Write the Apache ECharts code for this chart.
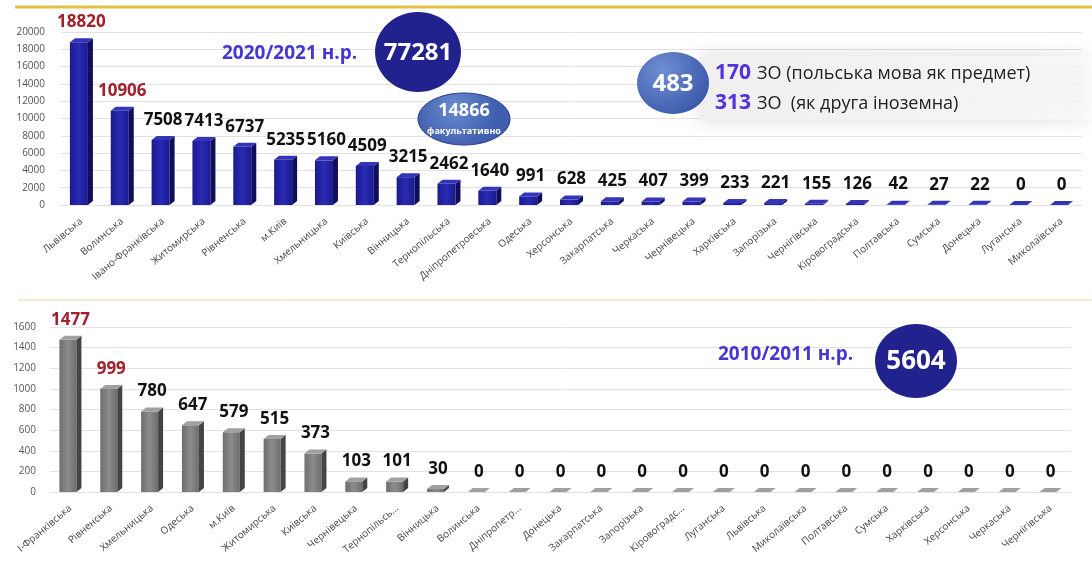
<!DOCTYPE html>
<html>
<head>
<meta charset="utf-8">
<script src="https://cdn.jsdelivr.net/npm/echarts@6/dist/echarts.min.js"></script>
<style>
  html, body { margin: 0; padding: 0; background: #fff; }
  #main { width: 1092px; height: 563px; }
</style>
</head>
<body>
<div id="main"></div>
<script>
// 2020/2021 н.р. — кількість учнів по областях
var regions2020 = ['Львівська', 'Волинська', 'Івано-Франківська', 'Житомирська', 'Рівненська', 'м.Київ',
  'Хмельницька', 'Київська', 'Вінницька', 'Тернопільська', 'Дніпропетровська', 'Одеська', 'Херсонська',
  'Закарпатська', 'Черкаська', 'Чернівецька', 'Харківська', 'Запорізька', 'Чернігівська', 'Кіровоградська',
  'Полтавська', 'Сумська', 'Донецька', 'Луганська', 'Миколаївська'];
var values2020 = [18820, 10906, 7508, 7413, 6737, 5235, 5160, 4509, 3215, 2462, 1640, 991, 628,
  425, 407, 399, 233, 221, 155, 126, 42, 27, 22, 0, 0];

// 2010/2011 н.р.
var regions2010 = ['І-Франківська', 'Рівненська', 'Хмельницька', 'Одеська', 'м.Київ', 'Житомирська',
  'Київська', 'Чернівецька', 'Тернопільсь...', 'Вінницька', 'Волинська', 'Дніпропетр...', 'Донецька',
  'Закарпатська', 'Запорізька', 'Кіровоградс...', 'Луганська', 'Львівська', 'Миколаївська', 'Полтавська',
  'Сумська', 'Харківська', 'Херсонська', 'Черкаська', 'Чернігівська'];
var values2010 = [1477, 999, 780, 647, 579, 515, 373, 103, 101, 30, 0, 0, 0,
  0, 0, 0, 0, 0, 0, 0, 0, 0, 0, 0, 0];

var yTicks2020 = [0, 20000, 2000];   // min, max, interval
var yTicks2010 = [0, 1600, 200];

var FONT = '"Open Sans", "Noto Sans", sans-serif';

// 3D-стовпчик: передня грань, бокова грань, верх + підпис
function bar3d(front, side, topc, w, d) {
  return function (params, api) {
    var p = api.coord([api.value(0), api.value(1)]);
    var b = api.coord([api.value(0), 0]);
    var l = p[0] - w / 2 - d / 2, r = l + w, t = p[1], base = b[1];
    var labelColor = params.dataIndex < 2 ? '#a3202c' : '#111';
    return {
      type: 'group',
      children: [
        { type: 'rect', shape: { x: l, y: t, width: w, height: base - t },
          style: { fill: new echarts.graphic.LinearGradient(0, 0, 1, 0, [
            { offset: 0, color: front[0] }, { offset: 0.5, color: front[1] }, { offset: 1, color: front[0] }]) } },
        { type: 'polygon', shape: { points: [[r, t], [r + d, t - d * 0.8], [r + d, base - d * 0.8], [r, base]] },
          style: { fill: side } },
        { type: 'polygon', shape: { points: [[l, t], [l + d, t - d * 0.8], [r + d, t - d * 0.8], [r, t]] },
          style: { fill: topc } },
        { type: 'text', style: { text: String(api.value(1)), x: p[0], y: t - 20, align: 'center',
          verticalAlign: 'middle', fill: labelColor, font: 'bold 17px ' + FONT } }
      ]
    };
  };
}

function plain(v) { return String(v); }

// усі підписи поверх сітки
function onTop(list) {
  list.forEach(function (g) { g.z = 100; });
  return list;
}

var chart = echarts.init(document.getElementById('main'));
var option = {
  backgroundColor: '#fff',
  animation: false,
  grid: [
    { left: 61, right: 10, top: 32, bottom: 358 },
    { left: 50, right: 21, top: 327, bottom: 71 }
  ],
  xAxis: [
    { type: 'category', gridIndex: 0, data: regions2020,
      axisLine: { show: false }, axisTick: { show: false },
      axisLabel: { interval: 0, rotate: 40, margin: 15, fontSize: 10, color: '#444', fontFamily: FONT } },
    { type: 'category', gridIndex: 1, data: regions2010,
      axisLine: { show: false }, axisTick: { show: false },
      axisLabel: { interval: 0, rotate: 40, margin: 15, fontSize: 10, color: '#444', fontFamily: FONT } }
  ],
  yAxis: [
    { type: 'value', gridIndex: 0, min: yTicks2020[0], max: yTicks2020[1], interval: yTicks2020[2],
      axisLine: { show: false }, axisTick: { show: false },
      axisLabel: { margin: 16, fontSize: 10, color: '#555', fontFamily: FONT, formatter: plain },
      splitLine: { lineStyle: { color: '#e2e2e2' } } },
    { type: 'value', gridIndex: 1, min: yTicks2010[0], max: yTicks2010[1], interval: yTicks2010[2],
      axisLine: { show: false }, axisTick: { show: false },
      axisLabel: { margin: 14, fontSize: 10, color: '#555', fontFamily: FONT, formatter: plain },
      splitLine: { lineStyle: { color: '#e2e2e2' } } }
  ],
  series: [
    { type: 'custom', xAxisIndex: 0, yAxisIndex: 0,
      renderItem: bar3d(['#1a1a8e', '#2a2ab4'], '#0e0e5a', '#3434b8', 18, 5),
      data: values2020.map(function (v, i) { return [i, v]; }) },
    { type: 'custom', xAxisIndex: 1, yAxisIndex: 1,
      renderItem: bar3d(['#6e6e6e', '#8c8c8c'], '#444', '#a0a0a0', 17, 5),
      data: values2010.map(function (v, i) { return [i, v]; }) }
  ],
  graphic: onTop([
    // лінії-роздільники
    { type: 'line', shape: { x1: 15, y1: 7, x2: 1092, y2: 7 }, style: { stroke: '#e3c245', lineWidth: 3 } },
    { type: 'line', shape: { x1: 18, y1: 300, x2: 1092, y2: 300 }, style: { stroke: '#e8dc98', lineWidth: 1 } },

    // 2020/2021
    { type: 'text', style: { text: '2020/2021 н.р.', x: 222, y: 54, verticalAlign: 'middle',
      fill: '#4637d2', font: 'bold 19px ' + FONT } },
    { type: 'ellipse', shape: { cx: 418, cy: 52, rx: 43, ry: 40 }, style: { fill: '#22228e' } },
    { type: 'text', style: { text: '77281', x: 418, y: 53, align: 'center', verticalAlign: 'middle',
      fill: '#fff', font: 'bold 24px ' + FONT } },

    { type: 'ellipse', shape: { cx: 464, cy: 119, rx: 46, ry: 26 },
      style: { fill: new echarts.graphic.RadialGradient(0.4, 0.3, 0.8, [
        { offset: 0, color: '#6a8ad0' }, { offset: 1, color: '#3f5fae' }]), stroke: '#2a3a8a', lineWidth: 1 } },
    { type: 'text', style: { text: '14866', x: 464, y: 111, align: 'center', verticalAlign: 'middle',
      fill: '#fff', font: 'bold 18px ' + FONT } },
    { type: 'text', style: { text: 'факультативно', x: 464, y: 131, align: 'center', verticalAlign: 'middle',
      fill: '#fff', font: 'bold 9px ' + FONT } },

    // 483 ЗО
    { type: 'rect', shape: { x: 700, y: 56, width: 392, height: 64 },
      style: { fill: new echarts.graphic.LinearGradient(0, 0, 1, 0, [
        { offset: 0, color: 'rgba(240,240,240,0.97)' }, { offset: 0.85, color: 'rgba(246,246,246,0.95)' },
        { offset: 1, color: 'rgba(255,255,255,0.6)' }]),
        shadowBlur: 18, shadowColor: 'rgba(0,0,0,0.15)' } },
    { type: 'ellipse', shape: { cx: 673, cy: 83, rx: 36, ry: 31 },
      style: { fill: new echarts.graphic.RadialGradient(0.35, 0.3, 0.8, [
        { offset: 0, color: '#6f8fd2' }, { offset: 1, color: '#3c5aaa' }]) } },
    { type: 'text', style: { text: '483', x: 673, y: 84, align: 'center', verticalAlign: 'middle',
      fill: '#fff', font: 'bold 24px ' + FONT } },
    { type: 'text', style: { text: '170', x: 715, y: 73, verticalAlign: 'middle',
      fill: '#5233dc', font: 'bold 21px ' + FONT } },
    { type: 'text', style: { text: 'ЗО (польська мова як предмет)', x: 757, y: 74, verticalAlign: 'middle',
      fill: '#222', font: '18px ' + FONT } },
    { type: 'text', style: { text: '313', x: 715, y: 103, verticalAlign: 'middle',
      fill: '#5233dc', font: 'bold 21px ' + FONT } },
    { type: 'text', style: { text: 'ЗО  (як друга іноземна)', x: 757, y: 104, verticalAlign: 'middle',
      fill: '#222', font: '18px ' + FONT } },

    // 2010/2011
    { type: 'text', style: { text: '2010/2011 н.р.', x: 718, y: 355, verticalAlign: 'middle',
      fill: '#4637d2', font: 'bold 19px ' + FONT } },
    { type: 'ellipse', shape: { cx: 916, cy: 361, rx: 41, ry: 37 }, style: { fill: '#22228e' } },
    { type: 'text', style: { text: '5604', x: 916, y: 362, align: 'center', verticalAlign: 'middle',
      fill: '#fff', font: 'bold 26px ' + FONT } }
  ])
};
chart.setOption(option);
</script>
</body>
</html>
